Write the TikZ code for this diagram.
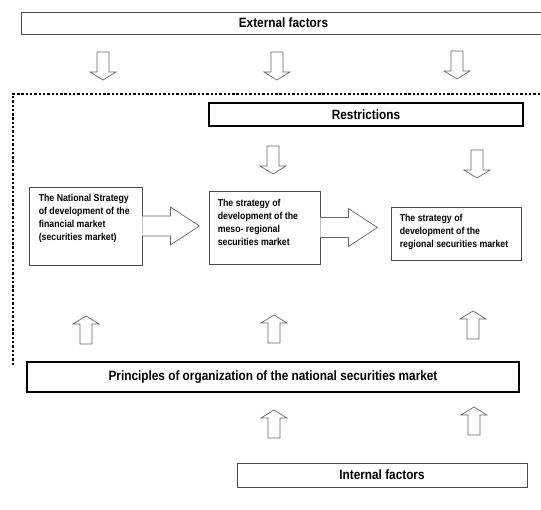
\documentclass[tikz,border=0pt]{standalone}
\usepackage{fontspec}
\newfontfamily\narrowsans{Liberation Sans}[FakeStretch=0.875]
\usetikzlibrary{calc}

\tikzset{
  titlebox/.style={draw=black!70, line width=0.8pt, inner sep=0pt, font=\narrowsans\bfseries\fontsize{13.5}{16}\selectfont},
  strongbox/.style={titlebox, draw=black, line width=1.8pt},
  stratbox/.style={draw=black!70, line width=0.8pt, inner sep=0pt},
  strattext/.style={anchor=north west, inner sep=0pt, align=left, font=\narrowsans\bfseries\fontsize{10}{13}\selectfont},
  hollow/.style={draw=black!60, line width=0.7pt, fill=white, line join=miter},
  dotframe/.style={draw=black, line width=2.6pt, dash pattern=on 2.4pt off 1.9pt},
  downarr/.pic={\draw[hollow] (-6,0) -- (6,0) -- (6,20) -- (13,20) -- (0,28) -- (-13,20) -- (-6,20) -- cycle;},
  uparr/.pic={\draw[hollow] (-6,0) -- (6,0) -- (6,-20) -- (13,-20) -- (0,-28) -- (-13,-20) -- (-6,-20) -- cycle;}
}

% block arrow leaving the right side of a box
\newcommand\blockarr[1]{\draw[hollow] ($(#1.east)+(0,-10)$) -- ++(28,0) -- ++(0,-9) -- ($(#1.east)+(57,0)$) -- ++(-29,19) -- ++(0,-9) -- ($(#1.east)+(0,10)$);}

\begin{document}
\begin{tikzpicture}[x=1pt, y=-1pt]
\useasboundingbox (0,0) rectangle (541,510);

% dotted frame
\draw[dotframe] (13,365) -- (13,94) -- (548,94);

% factor and principle bars
\node[titlebox, minimum width=525pt, minimum height=22pt] (ext) at (283.5,23) {External factors};
\node[strongbox, minimum width=314pt, minimum height=23pt] (restr) at (366,114.5) {Restrictions};
\node[strongbox, minimum width=492pt, minimum height=30pt] (princ) at (273,377) {Principles of organization of the national securities market};
\node[titlebox, minimum width=290pt, minimum height=24pt] (intern) at (382,475) {Internal factors};

% strategy boxes
\node[stratbox, minimum width=113pt, minimum height=78pt] (nat) at (85.5,226) {};
\node[stratbox, minimum width=111pt, minimum height=73pt] (meso) at (264.5,227.5) {};
\node[stratbox, minimum width=130pt, minimum height=53pt] (reg) at (456,233.5) {};

\node[strattext] (natT) at ($(nat.north west)+(10,7)$) {The National Strategy\\of development of the\\financial market\\(securities market)};
\node[strattext] (mesoT) at ($(meso.north west)+(9,8)$) {The strategy of\\development of the\\meso- regional\\securities market};
\node[strattext] (regT) at ($(reg.north west)+(9,7)$) {The strategy of\\development of the\\regional securities market};

\blockarr{nat}
\blockarr{meso}

% small arrows
\pic at (103,52) {downarr};
\pic at (277,52) {downarr};
\pic at (457,51) {downarr};
\pic at (273,146) {downarr};
\pic at (477,150) {downarr};
\pic at (86,344) {uparr};
\pic at (274,343) {uparr};
\pic at (473,339) {uparr};
\pic at (274,438) {uparr};
\pic at (474,435) {uparr};
\end{tikzpicture}
\end{document}
